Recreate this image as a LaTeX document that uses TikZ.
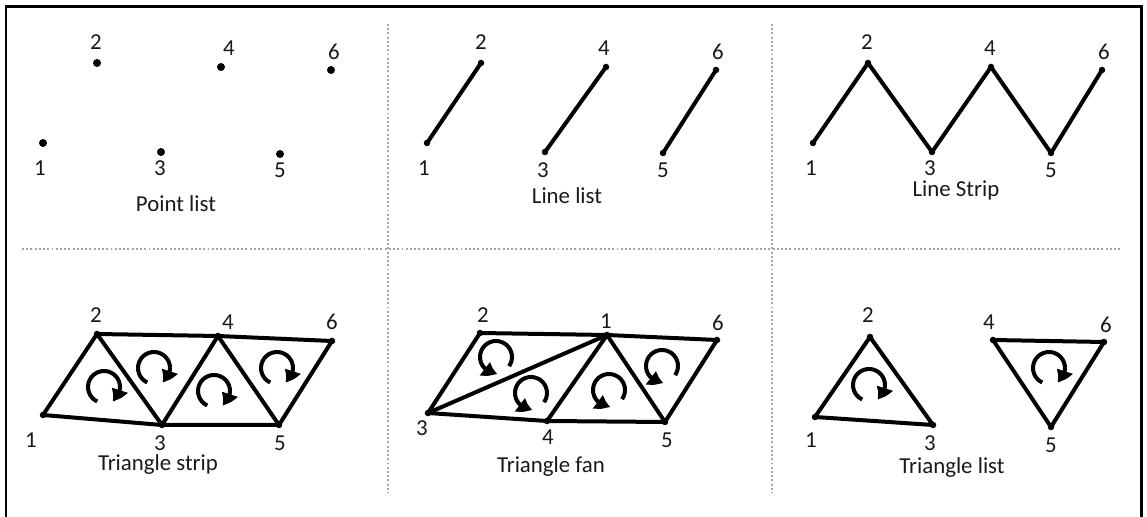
\documentclass[tikz,border=0pt]{standalone}
\usepackage{fontspec}
\setmainfont{Carlito}
\usetikzlibrary{arrows.meta,bending,positioning}

\begin{document}
\begin{tikzpicture}[x=0.02cm,y=0.02cm,
 font=\fontsize{13}{15}\selectfont,
 pt/.style={circle,fill=black,inner sep=0pt,minimum size=0.16cm},
 num/.style={text=black!90,inner sep=0pt},
 title/.style={text=black!90,inner sep=0pt},
 edge/.style={line width=0.08cm,line join=round,line cap=round},
 frame/.style={line width=0.06cm},
 sep/.style={gray!70,line width=1.1pt,dash pattern=on 1.1pt off 1.3pt},
 turn/.style={line width=0.08cm,-{Triangle[length=0.27cm,width=0.32cm,bend]}}]
\useasboundingbox (0,0) rectangle (1147,517);

% frame and separators
\draw[frame] (6,0) -- (6,510) -- (1141,510) -- (1141,0);
\draw[sep] (22,268) -- (1120,268);
\draw[sep] (388,493) -- (388,24);
\draw[sep] (772,493) -- (772,24);

% point list
\foreach \i/\x/\y/\lx/\ly in {1/43/374/40/349,2/97/454/96/475,3/161/365/160/349,
  4/221/450/229/469,5/280/363/280/347,6/331/447/334/465}{
  \node[pt] (pl\i) at (\x,\y) {};
  \node[num] (npl\i) at (\lx,\ly) {\i};
}
\node[title] (plname) at (176,313) {Point list};

% line list
\foreach \i/\x/\y/\lx/\ly in {1/427/374/424/349,2/481/454/481/475,3/545/365/543/347,
  4/606/450/604/469,5/663/364/663/347,6/716/447/718/465}{
  \node[pt,minimum size=0.13cm] (ll\i) at (\x,\y) {};
  \node[num] (nll\i) at (\lx,\ly) {\i};
}
\node[title] (llname) at (567,321) {Line list};
\draw[edge] (ll1.center) -- (ll2.center);
\draw[edge] (ll3.center) -- (ll4.center);
\draw[edge] (ll5.center) -- (ll6.center);

% line strip
\foreach \i/\x/\y/\lx/\ly in {1/813/374/811/349,2/868/454/867/475,3/932/365/930/349,
  4/991/450/990/469,5/1051/364/1051/347,6/1102/447/1104/465}{
  \node[pt,minimum size=0.13cm] (ls\i) at (\x,\y) {};
  \node[num] (nls\i) at (\lx,\ly) {\i};
}
\node[title] (lsname) at (956,327) {Line Strip};
\draw[edge] (ls1.center) -- (ls2.center) -- (ls3.center) -- (ls4.center)
  -- (ls5.center) -- (ls6.center);

% triangle strip
\foreach \i/\x/\y/\lx/\ly in {1/43/102/31/77,2/97/183/96/202,3/162/92/160/74,
  4/218/181/228/195,5/279/92/280/74,6/332/176/332/195}{
  \node[pt,minimum size=0.13cm] (ts\i) at (\x,\y) {};
  \node[num] (nts\i) at (\lx,\ly) {\i};
}
\node[title] (tsname) at (158,52) {Triangle strip};
\draw[edge] (ts1.center) -- (ts2.center) -- (ts4.center) -- (ts6.center)
  -- (ts5.center) -- (ts3.center) -- cycle;
\draw[edge] (ts2.center) -- (ts3.center) -- (ts4.center) -- (ts5.center);
\coordinate (tsr1) at (104,130);
\coordinate (tsr2) at (154,149);
\coordinate (tsr3) at (214,126);
\coordinate (tsr4) at (277,149);
\foreach \c in {tsr1,tsr2,tsr3,tsr4}
  \draw[turn] (\c) ++(-115:16) arc[start angle=-115,end angle=-420,radius=16];

% triangle fan
\foreach \i/\x/\y/\lx/\ly in {1/607/182/606/196,2/480/184/483/202,3/428/104/422/89,
  4/547/96/548/80,5/665/95/667/77,6/717/177/718/194}{
  \node[pt,minimum size=0.13cm] (tf\i) at (\x,\y) {};
  \node[num] (ntf\i) at (\lx,\ly) {\i};
}
\node[title] (tfname) at (551,50) {Triangle fan};
\draw[edge] (tf2.center) -- (tf1.center) -- (tf6.center) -- (tf5.center)
  -- (tf4.center) -- (tf3.center) -- cycle;
\draw[edge] (tf3.center) -- (tf1.center) -- (tf4.center);
\draw[edge] (tf1.center) -- (tf5.center);
\coordinate (tfr1) at (496,160);
\coordinate (tfr2) at (531,124);
\coordinate (tfr3) at (609,127);
\coordinate (tfr4) at (662,151);
\foreach \c in {tfr1,tfr2,tfr3,tfr4}
  \draw[turn] (\c) ++(-35:16) arc[start angle=-35,end angle=275,radius=16];

% triangle list
\foreach \i/\x/\y/\lx/\ly in {1/815/100/811/77,2/870/180/868/202,3/933/92/930/74,
  4/993/177/989/195,5/1051/90/1051/72,6/1104/175/1106/192}{
  \node[pt,minimum size=0.13cm] (tl\i) at (\x,\y) {};
  \node[num] (ntl\i) at (\lx,\ly) {\i};
}
\node[title] (tlname) at (952,49) {Triangle list};
\draw[edge] (tl1.center) -- (tl2.center) -- (tl3.center) -- cycle;
\draw[edge] (tl4.center) -- (tl6.center) -- (tl5.center) -- cycle;
\coordinate (tlr1) at (869,132);
\coordinate (tlr2) at (1049,149);
\foreach \c in {tlr1,tlr2}
  \draw[turn] (\c) ++(-115:16) arc[start angle=-115,end angle=-420,radius=16];
\end{tikzpicture}
\end{document}
